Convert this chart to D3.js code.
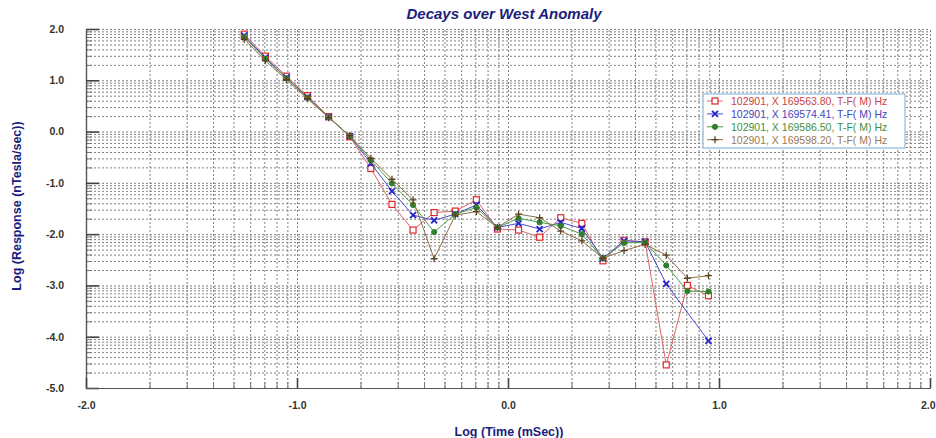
<!DOCTYPE html>
<html>
<head>
<meta charset="utf-8">
<script src="https://cdn.jsdelivr.net/npm/d3@7"></script>
<style>
  body { margin: 0; background: #fff; }
  svg { display: block; font-family: Arial, "Liberation Sans", sans-serif; }
</style>
</head>
<body>
<svg id="chart" width="936" height="438"></svg>
<script>
// log time (mSec) of each channel
var logTime = [-1.25, -1.15, -1.05, -0.95, -0.85, -0.75, -0.65, -0.55, -0.45, -0.35, -0.25, -0.15,
  -0.05, 0.05, 0.15, 0.25, 0.35, 0.45, 0.55, 0.65, 0.75, 0.85, 0.95];

// log response per station
var st563 = [1.90, 1.47, 1.08, 0.70, 0.29, -0.10, -0.72, -1.42, -1.92, -1.58, -1.55, -1.33,
  -1.90, -1.92, -2.06, -1.68, -1.79, -2.52, -2.12, -2.15, -4.55, -3.00, -3.20];
var st574 = [1.87, 1.44, 1.05, 0.67, 0.28, -0.09, -0.62, -1.16, -1.63, -1.73, -1.61, -1.43,
  -1.87, -1.79, -1.90, -1.77, -1.89, -2.47, -2.13, -2.15, -2.97, null, -4.08];
var st586 = [1.84, 1.42, 1.04, 0.66, 0.28, -0.09, -0.56, -1.01, -1.43, -1.96, -1.61, -1.48,
  -1.87, -1.69, -1.77, -1.84, -2.00, -2.47, -2.17, -2.16, -2.61, -3.11, -3.12];
var st598 = [1.80, 1.38, 1.01, 0.64, 0.27, -0.08, -0.52, -0.93, -1.33, -2.48, -1.63, -1.56,
  -1.87, -1.61, -1.68, -1.94, -2.13, -2.47, -2.32, -2.20, -2.41, -2.86, -2.81];

var seriesNames = ["102901, X 169563.80, T-F( M) Hz", "102901, X 169574.41, T-F( M) Hz",
  "102901, X 169586.50, T-F( M) Hz", "102901, X 169598.20, T-F( M) Hz"];

var xTicks = [-2, -1, 0, 1, 2];
var yTicks = [-5, -4, -3, -2, -1, 0, 1, 2];

var series = [
  { name: seriesNames[0], values: st563, line: "#e06464", mark: "#e02828", text: "#c84444", shape: "square" },
  { name: seriesNames[1], values: st574, line: "#4a4ad0", mark: "#2424c8", text: "#4444c0", shape: "x" },
  { name: seriesNames[2], values: st586, line: "#4aa04a", mark: "#2f7f2f", text: "#3f8f3f", shape: "circle" },
  { name: seriesNames[3], values: st598, line: "#8f7048", mark: "#5a4020", text: "#9a7a58", shape: "plus" }
];

var svg = d3.select("#chart");
var plotL = 86, plotR = 930, plotT = 29, plotB = 388;

var x = d3.scaleLinear().domain([-2, 2]).range([plotL, plotR]);
var y = d3.scaleLinear().domain([-5, 2]).range([plotB, plotT]);

// plain hyphen for negatives, like the original software
var fmt = function (d) { return d3.format(".1f")(d).replace("\u2212", "-"); };

// log-style minor grid values inside each decade
function minorVals(lo, hi) {
  var out = [];
  for (var k = lo; k < hi; k++) {
    for (var m = 2; m <= 9; m++) out.push(k + Math.log10(m));
  }
  return out;
}
var xMinor = minorVals(-2, 2);
var yMinor = minorVals(-5, 2);

// grid
var grid = svg.append("g");
grid.append("g")
  .attr("transform", "translate(" + plotL + ",0)")
  .call(d3.axisLeft(y).tickValues(yMinor.concat(yTicks)).tickSize(-(plotR - plotL)).tickFormat(""))
  .call(function (g) { g.select(".domain").remove(); });
grid.append("g")
  .attr("transform", "translate(0," + plotB + ")")
  .call(d3.axisBottom(x).tickValues(xMinor.concat(xTicks)).tickSize(-(plotB - plotT)).tickFormat(""))
  .call(function (g) { g.select(".domain").remove(); });
grid.selectAll("line")
  .attr("stroke", "#808080")
  .attr("stroke-width", 1)
  .attr("stroke-dasharray", "2,2");

// axes with inward ticks
var axStyle = function (g) {
  g.select(".domain").attr("stroke", "#555").attr("stroke-width", 1.2);
  g.selectAll("line").attr("stroke", "#444");
  g.selectAll("text").attr("font-size", "10.5px").attr("font-weight", "bold").attr("fill", "#333");
};
svg.append("g")
  .attr("transform", "translate(" + plotL + ",0)")
  .call(d3.axisLeft(y).tickValues(yMinor).tickSize(-6).tickFormat("").tickSizeOuter(0))
  .call(axStyle)
  .selectAll("line").attr("stroke", "#777");
svg.append("g")
  .attr("transform", "translate(" + plotL + ",0)")
  .call(d3.axisLeft(y).tickValues(yTicks).tickSize(-13).tickSizeOuter(0).tickPadding(22).tickFormat(fmt))
  .call(axStyle)
  .selectAll("line").attr("stroke-width", 1.6);
svg.append("g")
  .attr("transform", "translate(0," + plotB + ")")
  .call(d3.axisBottom(x).tickValues(xMinor).tickSize(-6).tickFormat("").tickSizeOuter(0))
  .call(axStyle)
  .selectAll("line").attr("stroke", "#777");
var xAxisG = svg.append("g")
  .attr("transform", "translate(0," + plotB + ")")
  .call(d3.axisBottom(x).tickValues(xTicks).tickSize(-10).tickSizeOuter(0).tickPadding(14).tickFormat(fmt))
  .call(axStyle);
xAxisG.selectAll("line").attr("stroke-width", 1.6);
// keep the last label inside the page
xAxisG.selectAll(".tick text").filter(function (d) { return d === 2; })
  .attr("text-anchor", "end").attr("dx", 5);

// markers
function marker(sel, shape, color) {
  if (shape === "square") {
    sel.append("rect").attr("x", -3).attr("y", -3).attr("width", 6).attr("height", 6)
      .attr("fill", "#fff").attr("stroke", color).attr("stroke-width", 1.2);
  } else if (shape === "circle") {
    sel.append("circle").attr("r", 2.6).attr("fill", color).attr("stroke", color);
  } else if (shape === "x") {
    sel.append("path").attr("d", "M-3,-3L3,3M-3,3L3,-3").attr("stroke", color).attr("stroke-width", 1.8);
  } else {
    sel.append("path").attr("d", "M-3.5,0L3.5,0M0,-3.5L0,3.5").attr("stroke", color).attr("stroke-width", 1.3);
  }
}

var line = d3.line().x(function (d) { return x(d.t); }).y(function (d) { return y(d.v); });

series.forEach(function (s) {
  var pts = logTime.map(function (t, i) { return { t: t, v: s.values[i] }; })
    .filter(function (d) { return d.v !== null; });
  var g = svg.append("g");
  g.append("path").datum(pts)
    .attr("d", line)
    .attr("fill", "none")
    .attr("stroke", s.line)
    .attr("stroke-width", 1);
  g.selectAll("g.pt").data(pts).enter().append("g")
    .attr("class", "pt")
    .attr("transform", function (d) { return "translate(" + x(d.t) + "," + y(d.v) + ")"; })
    .each(function () { marker(d3.select(this), s.shape, s.mark); });
});

// title and axis labels
svg.append("text")
  .attr("x", 504).attr("y", 19)
  .attr("text-anchor", "middle")
  .attr("font-size", "15px").attr("font-weight", "bold").attr("font-style", "italic")
  .attr("fill", "#1c1c7c")
  .text("Decays over West Anomaly");
svg.append("text")
  .attr("transform", "translate(21,206) rotate(-90)")
  .attr("text-anchor", "middle")
  .attr("font-size", "12.5px").attr("font-weight", "bold")
  .attr("fill", "#1c1c7c")
  .text("Log (Response (nTesla/sec))");
svg.append("text")
  .attr("x", 509).attr("y", 436)
  .attr("text-anchor", "middle")
  .attr("font-size", "12.5px").attr("font-weight", "bold")
  .attr("fill", "#1c1c7c")
  .text("Log (Time (mSec))");

// legend
var lg = svg.append("g").attr("transform", "translate(703,94)");
lg.append("rect").attr("width", 202).attr("height", 54)
  .attr("fill", "#fff").attr("stroke", "#8fb8dc").attr("stroke-width", 1.2);
series.forEach(function (s, i) {
  var row = lg.append("g").attr("transform", "translate(0," + (7 + i * 12.9) + ")");
  row.append("line").attr("x1", 4).attr("x2", 20).attr("stroke", s.line).attr("stroke-width", 1);
  marker(row.append("g").attr("transform", "translate(12,0)"), s.shape, s.mark);
  row.append("text").attr("x", 28).attr("y", 3.8)
    .attr("font-size", "10.5px").attr("fill", s.text)
    .text(s.name);
});
</script>
</body>
</html>
